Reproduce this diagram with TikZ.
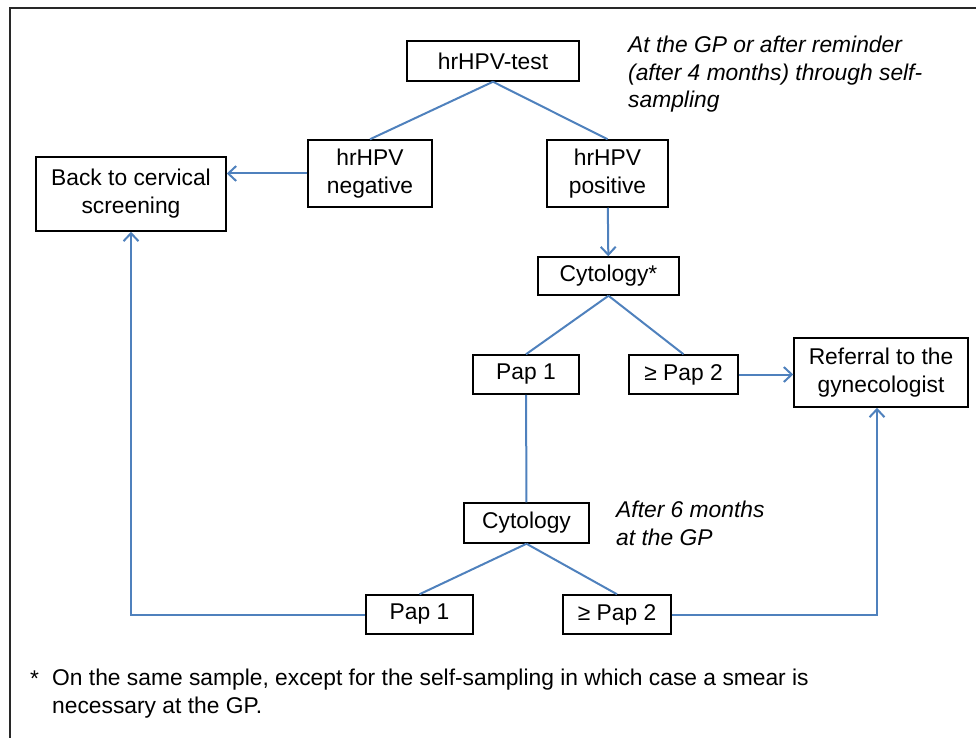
\documentclass[tikz,border=0pt]{standalone}
\usepackage{fontspec}
\setmainfont{Liberation Sans}
\usepackage{tikz}
\usetikzlibrary{arrows.meta}
\definecolor{lineblue}{RGB}{79,129,189}
\definecolor{framegray}{RGB}{40,40,40}
\newcommand{\flowfont}{\fontsize{22.8}{27.8}\selectfont}
\tikzstyle{block} = [draw=black, rectangle, line width=1.5pt, inner sep=0pt, align=center]
\tikzstyle{line} = [draw=lineblue, line width=2pt]
\tikzstyle{arrow} = [line, -{Straight Barb[length=8pt,width=15pt]}]
\tikzstyle{remark} = [font=\flowfont\itshape, align=left, anchor=base west, inner sep=0pt]

\begin{document}
\begin{tikzpicture}[x=1pt, y=-1pt, font=\flowfont]
        \useasboundingbox (0,0) rectangle (976,738);
        \draw [framegray, line width=1.6pt] (10,738) -- (10,8) -- (976,8);

        \node [block, minimum width=172pt, minimum height=40pt] (hrHPVTest) at (493,61) {hrHPV-test};
        \node [block, minimum width=124pt, minimum height=67pt] (hrHPVNegative) at (370,173.5) {hrHPV\\negative};
        \node [block, minimum width=121pt, minimum height=67pt] (hrHPVPositive) at (607.5,173.5) {hrHPV\\positive};
        \node [block, minimum width=190pt, minimum height=74pt] (backScreening) at (131,194) {Back to cervical\\screening};
        \node [block, minimum width=141pt, minimum height=38pt] (cytologyFirst) at (608.5,276) {Cytology*};
        \node [block, minimum width=106pt, minimum height=39pt] (papOneFirst) at (526,374.5) {Pap 1};
        \node [block, minimum width=109pt, minimum height=39pt] (papTwoFirst) at (683.5,374.5) {≥ Pap 2};
        \node [block, minimum width=174pt, minimum height=69pt] (referral) at (881,372.5) {Referral to the\\gynecologist};
        \node [block, minimum width=125pt, minimum height=40pt] (cytologySecond) at (526.5,523) {Cytology};
        \node [block, minimum width=107pt, minimum height=39pt] (papOneSecond) at (419.5,614.5) {Pap 1};
        \node [block, minimum width=108pt, minimum height=39pt] (papTwoSecond) at (617,614.5) {≥ Pap 2};

        % multi-line nodes sit on their last baseline
        \node [remark] (noteReminder) at (628,108) {At the GP or after reminder\\(after 4 months) through self-\\sampling};
        \node [remark] (noteSixMonths) at (616,545) {After 6 months\\at the GP};
        \node [anchor=base west, inner sep=0pt] (footStar) at (30,686) {*};
        \node [anchor=base west, inner sep=0pt, align=left] (footNote) at (52,713) {On the same sample, except for the self-sampling in which case a smear is\\necessary at the GP.};

        \path (hrHPVTest.south) edge [line] (hrHPVNegative.north);
        \path (hrHPVTest.south) edge [line] (hrHPVPositive.north);
        \path (hrHPVNegative.west) edge [arrow] (hrHPVNegative.west -| backScreening.east);
        \path (hrHPVPositive) edge [arrow] (cytologyFirst);
        \path (cytologyFirst.south) edge [line] (papOneFirst.north);
        \path (cytologyFirst.south) edge [line] (papTwoFirst.north);
        \path (papTwoFirst.east) edge [arrow] (papTwoFirst.east -| referral.west);
        \path (papOneFirst) edge [line] (cytologySecond);
        \path (cytologySecond.south) edge [line] (papOneSecond.north);
        \path (cytologySecond.south) edge [line] (papTwoSecond.north);
        \draw [arrow] (papOneSecond.west) -| (backScreening.south);
        \draw [arrow] (papTwoSecond.east) -| ([xshift=-4pt]referral.south);
    \end{tikzpicture}
\end{document}
